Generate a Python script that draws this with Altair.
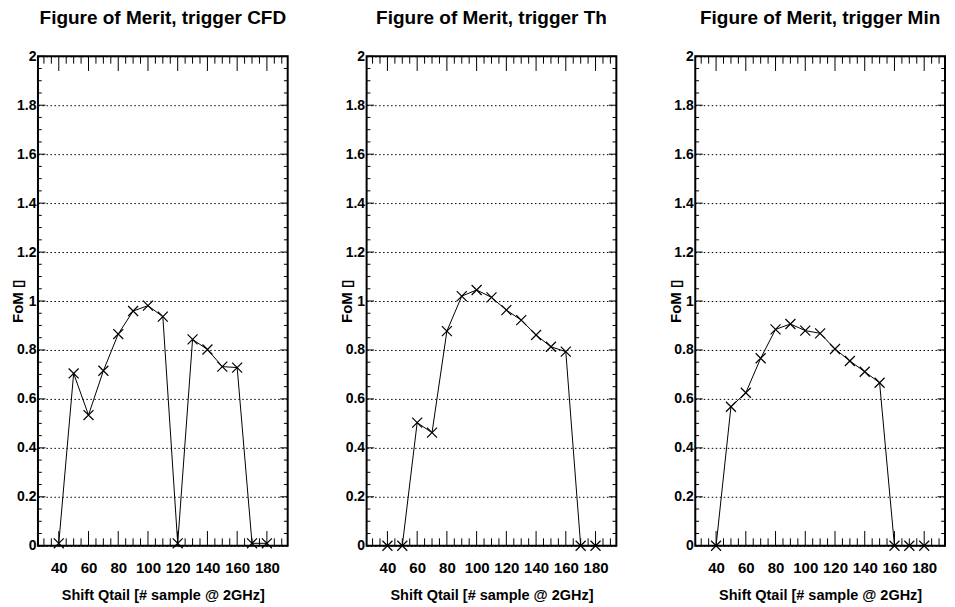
import altair as alt
import pandas as pd

# ---------------- data ----------------
SHIFT = [40, 50, 60, 70, 80, 90, 100, 110, 120, 130, 140, 150, 160, 170, 180]
FOM_CFD = [0.01, 0.704, 0.534, 0.715, 0.865, 0.959, 0.981, 0.936, 0.01, 0.843, 0.802, 0.732, 0.728, 0.01, 0.01]
FOM_TH = [0.0, 0.0, 0.503, 0.462, 0.877, 1.020, 1.045, 1.015, 0.963, 0.922, 0.861, 0.813, 0.793, 0.0, 0.0]
FOM_MIN = [0.0, 0.568, 0.625, 0.766, 0.884, 0.906, 0.879, 0.868, 0.804, 0.755, 0.711, 0.666, 0.0, 0.0, 0.0]
TITLES = ["Figure of Merit, trigger CFD", "Figure of Merit, trigger Th", "Figure of Merit, trigger Min"]
X_TITLE = "Shift Qtail [# sample @ 2GHz]"
Y_TITLE = "FoM \u25af"

X_LABELS = [40, 60, 80, 100, 120, 140, 160, 180]
Y_LABELS = [0, 0.2, 0.4, 0.6, 0.8, 1, 1.2, 1.4, 1.6, 1.8, 2]
X_MINOR = [v for v in range(30, 195, 5) if v % 20 != 0]
Y_MINOR = [round(k * 0.05, 2) for k in range(1, 40) if k % 4 != 0]

# ---------------- style ----------------
W, H = 250, 490
XMAJ, XMIN = 14.7, 7.4
YMAJ, YMIN = 7.5, 3.8
FONT = "Liberation Sans, Arial, Helvetica, sans-serif"
XSHAPE = "M-1,-1L1,1M1,-1L-1,1"

xscale = alt.Scale(domain=[26, 194], nice=False, zero=False)
yscale = alt.Scale(domain=[0, 2], nice=False, zero=False)

x_axis = alt.Axis(
    values=X_LABELS, title=X_TITLE, grid=False, domain=False, ticks=False, tickSize=0,
    labelFont=FONT, labelFontWeight="bold", labelFontSize=15, labelColor="black",
    labelPadding=15, labelFlush=False, labelOverlap=False, labelBound=False,
    titleFont=FONT, titleFontWeight="bold", titleFontSize=14.5, titleColor="black",
    titleX=W / 2, titleY=54, titleBaseline="alphabetic", titleAlign="center",
)
y_axis = alt.Axis(
    values=Y_LABELS, format="~g", title=Y_TITLE, grid=True, gridColor="black",
    gridDash=[1.5, 2.5], gridWidth=1, gridOpacity=1, domain=False, ticks=False, tickSize=0,
    labelFont=FONT, labelFontWeight="bold", labelFontSize=14, labelColor="black",
    labelPadding=2, labelFlush=False, labelOverlap=False, labelBound=False,
    titleFont=FONT, titleFontWeight="bold", titleFontSize=15, titleColor="black",
    titleX=-15, titleY=H / 2, titleBaseline="alphabetic", titleAlign="center", titleAngle=270,
)


def X(field):
    return alt.X(field, type="quantitative", scale=xscale, axis=x_axis)


def Y(field):
    return alt.Y(field, type="quantitative", scale=yscale, axis=y_axis)


def tick_rules(vals, channel, length, side):
    df = pd.DataFrame({"v": vals})
    base = alt.Chart(df).mark_rule(color="black", strokeWidth=1)
    if channel == "x":
        enc = dict(x=X("v"))
        if side == "bottom":
            enc.update(y=alt.value(H), y2=alt.value(H - length))
        else:
            enc.update(y=alt.value(0), y2=alt.value(length))
    else:
        enc = dict(y=Y("v"))
        if side == "left":
            enc.update(x=alt.value(0), x2=alt.value(length))
        else:
            enc.update(x=alt.value(W), x2=alt.value(W - length))
    return base.encode(**enc)


def panel(title, values):
    df = pd.DataFrame({"shift": SHIFT, "fom": values})
    line = alt.Chart(df).mark_line(color="black", strokeWidth=1).encode(x=X("shift"), y=Y("fom"))
    pts = alt.Chart(df).mark_point(
        shape=XSHAPE, size=100, filled=False, color="black", strokeWidth=1.2, opacity=1
    ).encode(x=X("shift"), y=Y("fom"))
    layers = [line, pts,
              tick_rules(X_LABELS, "x", XMAJ, "bottom"), tick_rules(X_MINOR, "x", XMIN, "bottom"),
              tick_rules(X_LABELS, "x", XMAJ, "top"), tick_rules(X_MINOR, "x", XMIN, "top"),
              tick_rules(Y_LABELS, "y", YMAJ, "left"), tick_rules(Y_MINOR, "y", YMIN, "left"),
              tick_rules(Y_LABELS, "y", YMAJ, "right"), tick_rules(Y_MINOR, "y", YMIN, "right")]
    return alt.layer(*layers).properties(
        width=W, height=H,
        title=alt.TitleParams(text=title, font=FONT, fontWeight="bold", fontSize=19, color="black",
                              anchor="middle", baseline="alphabetic", offset=6),
    )


chart = alt.hconcat(
    panel(TITLES[0], FOM_CFD), panel(TITLES[1], FOM_TH), panel(TITLES[2], FOM_MIN),
    spacing=79, bounds="flush",
).properties(
    padding={"left": 2, "top": 0, "right": 0, "bottom": 0}, background="white"
).configure_view(stroke="black", strokeWidth=2)

chart.save("out.html", embed_options={"renderer": "svg", "actions": False})
